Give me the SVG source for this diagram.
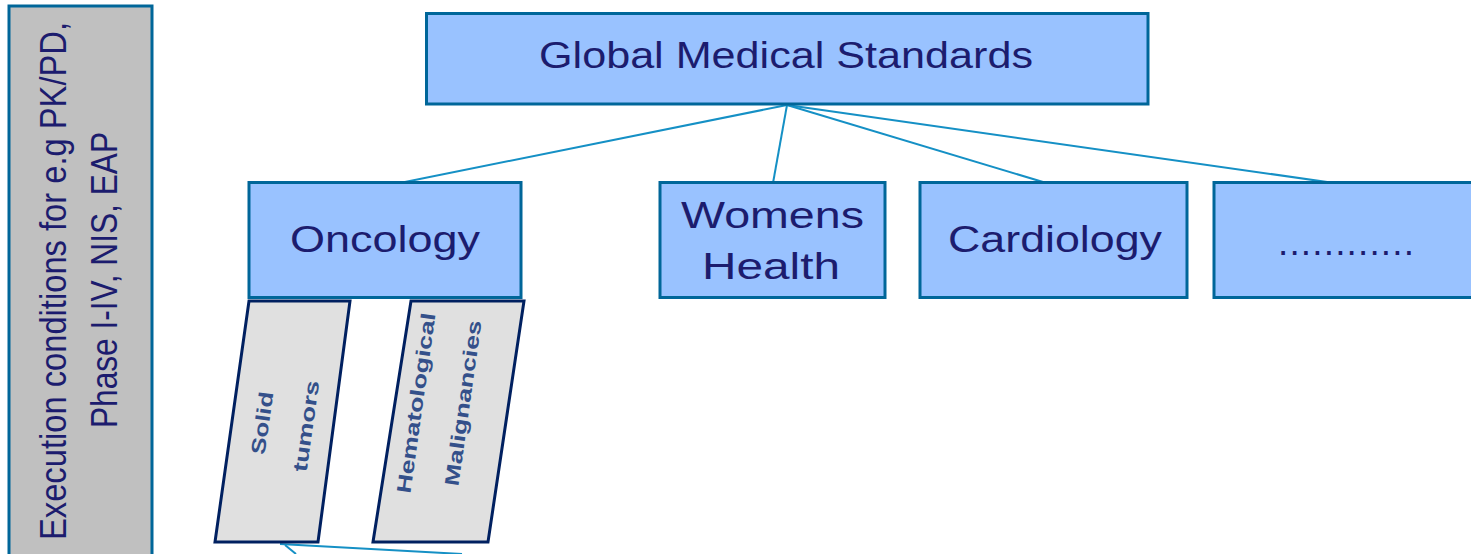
<svg xmlns="http://www.w3.org/2000/svg" width="1471" height="554" viewBox="0 0 1471 554">
<style>
.box{fill:#99C2FF;stroke:#006699;stroke-width:3}
.side{fill:#C0C0C0;stroke:#006699;stroke-width:3}
.par{fill:#E0E0E0;stroke:#002060;stroke-width:3}
.t{font-family:"Liberation Sans",Arial,sans-serif;font-size:37px;fill:#1C1C6E}
.s{font-family:"Liberation Sans",Arial,sans-serif;font-size:20px;font-weight:bold;fill:#34508A}
.c{stroke:#1590C5;stroke-width:2;fill:none}
</style>
<rect width="1471" height="554" fill="#FFFFFF"/>
<g id="connectors">
<line class="c" x1="787" y1="105" x2="390" y2="185"/>
<line class="c" x1="787" y1="105" x2="773" y2="183"/>
<line class="c" x1="787" y1="105" x2="1053" y2="185"/>
<line class="c" x1="787" y1="105" x2="1348" y2="185"/>
<line class="c" x1="280" y1="544" x2="462" y2="554"/>
<line class="c" x1="285" y1="545" x2="296" y2="554"/>
</g>
<g id="execution-conditions">
<rect class="side" x="9" y="6" width="143" height="560"/>
<text class="t" transform="translate(66,281) rotate(-90)" text-anchor="middle" textLength="518" lengthAdjust="spacingAndGlyphs">Execution conditions for e.g PK/PD,</text>
<text class="t" transform="translate(117,280) rotate(-90)" text-anchor="middle" textLength="296" lengthAdjust="spacingAndGlyphs">Phase I-IV, NIS, EAP</text>
</g>
<g id="global-medical-standards">
<rect class="box" x="426.5" y="13.5" width="721.5" height="90.5"/>
<text class="t" x="786" y="68" text-anchor="middle" textLength="494" lengthAdjust="spacingAndGlyphs">Global Medical Standards</text>
</g>
<g id="oncology">
<rect class="box" x="249" y="182.5" width="272" height="115"/>
<text class="t" x="385" y="252" text-anchor="middle" textLength="190" lengthAdjust="spacingAndGlyphs">Oncology</text>
</g>
<g id="womens-health">
<rect class="box" x="660" y="182.5" width="225" height="115"/>
<text class="t" x="772.5" y="227.5" text-anchor="middle" textLength="183" lengthAdjust="spacingAndGlyphs">Womens</text>
<text class="t" x="771" y="278.5" text-anchor="middle" textLength="138" lengthAdjust="spacingAndGlyphs">Health</text>
</g>
<g id="cardiology">
<rect class="box" x="920" y="182.5" width="267" height="115"/>
<text class="t" x="1055" y="252" text-anchor="middle" textLength="214" lengthAdjust="spacingAndGlyphs">Cardiology</text>
</g>
<g id="more">
<rect class="box" x="1214" y="182.5" width="270" height="115"/>
<text class="t" x="1346" y="255" text-anchor="middle" textLength="136">............</text>
</g>
<g id="solid-tumors">
<polygon class="par" points="249,301 350,301 318,542 215,542"/>
<text class="s" transform="translate(262,423) rotate(-82)" text-anchor="middle" dominant-baseline="central" textLength="63" lengthAdjust="spacingAndGlyphs">Solid</text>
<text class="s" transform="translate(306,426) rotate(-82)" text-anchor="middle" dominant-baseline="central" textLength="92" lengthAdjust="spacingAndGlyphs">tumors</text>
</g>
<g id="hematological-malignancies">
<polygon class="par" points="411,301 524,301 488,542 373,542"/>
<text class="s" transform="translate(416,403) rotate(-82)" text-anchor="middle" dominant-baseline="central" textLength="182" lengthAdjust="spacingAndGlyphs">Hematological</text>
<text class="s" transform="translate(463,403) rotate(-82)" text-anchor="middle" dominant-baseline="central" textLength="167" lengthAdjust="spacingAndGlyphs">Malignancies</text>
</g>
</svg>
